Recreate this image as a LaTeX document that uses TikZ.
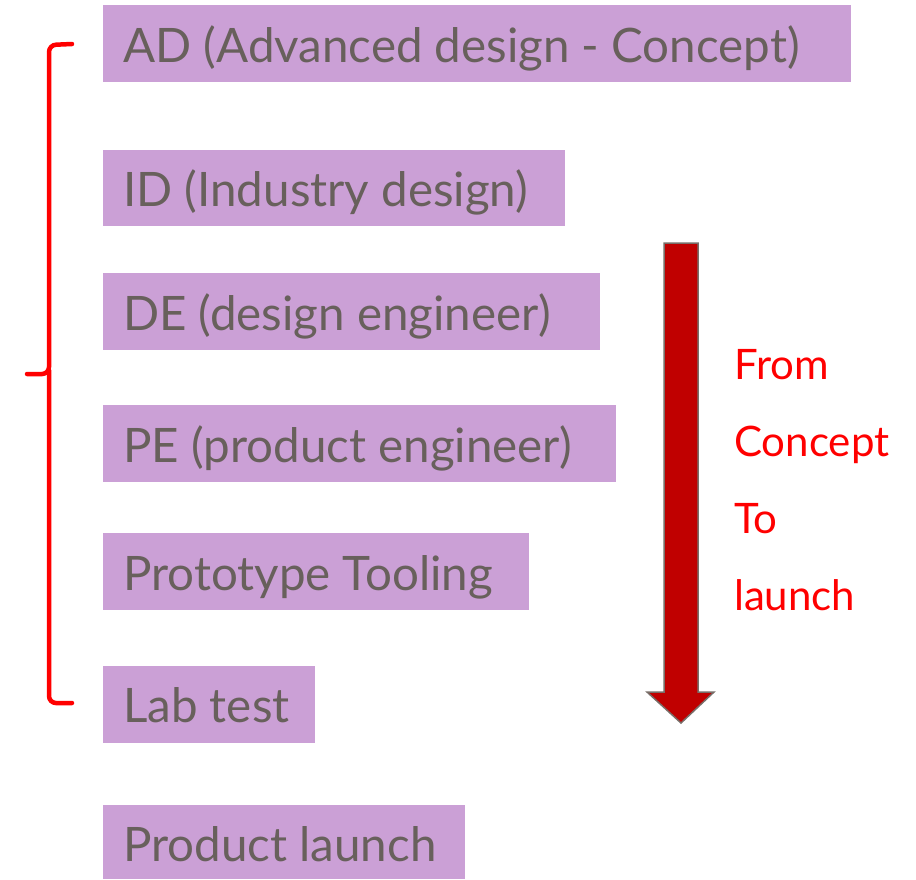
\documentclass[tikz,border=0pt]{standalone}
\usepackage{fontspec}
\setmainfont{Lato}
\definecolor{boxfill}{RGB}{203,160,214}
\definecolor{textgray}{RGB}{104,96,92}
\definecolor{arrowred}{RGB}{192,0,0}
\definecolor{arrowedge}{RGB}{120,110,105}
\definecolor{bracered}{RGB}{255,0,0}
\begin{document}
\begin{tikzpicture}[x=1pt,y=-1pt,
  box/.style={fill=boxfill, draw=none, anchor=north west, inner sep=0pt},
  lbl/.style={anchor=base west, inner sep=0pt, text=textgray, font=\fontsize{47.5}{56}\selectfont},
  side/.style={anchor=base west, inner sep=0pt, text=bracered, font=\fontsize{42}{50}\selectfont}]
\useasboundingbox (0,0) rectangle (916,879);
% boxes
\node[box, minimum width=748pt, minimum height=77pt] (b1) at (103,5) {};
\node[box, minimum width=462pt, minimum height=76pt] (b2) at (103,150) {};
\node[box, minimum width=497pt, minimum height=77pt] (b3) at (103,273) {};
\node[box, minimum width=513pt, minimum height=77pt] (b4) at (103,405) {};
\node[box, minimum width=426pt, minimum height=77pt] (b5) at (103,533) {};
\node[box, minimum width=212pt, minimum height=77pt] (b6) at (103,666) {};
\node[box, minimum width=362pt, minimum height=74pt] (b7) at (103,805) {};
% labels
\node[lbl] (t1) at (123,62) {AD (Advanced design - Concept)};
\node[lbl] (t2) at (123,206) {ID (Industry design)};
\node[lbl] (t3) at (123,330) {DE (design engineer)};
\node[lbl] (t4) at (123,462) {PE (product engineer)};
\node[lbl] (t5) at (123,590) {Prototype Tooling};
\node[lbl] (t6) at (123,722) {Lab test};
\node[lbl] (t7) at (123,861) {Product launch};
% side text
\node[side] (s1) at (734,379) {From};
\node[side] (s2) at (734,456) {Concept};
\node[side] (s3) at (734,533) {To};
\node[side] (s4) at (734,610) {launch};
% arrow
\draw[fill=arrowred, draw=arrowedge, line width=1.5pt, line join=miter]
  (664,243) -- (698,243) -- (698,692) -- (714,692) -- (681,723) -- (647,692) -- (664,692) -- cycle;
% brace
\draw[bracered, line width=4.5pt, line cap=round, rounded corners=7pt]
  (72,44) -- (49,45) -- (49,374) -- (27,374);
\draw[bracered, line width=4.5pt, line cap=round, rounded corners=7pt]
  (49,370) -- (49,703) -- (72,703);
\end{tikzpicture}
\end{document}
